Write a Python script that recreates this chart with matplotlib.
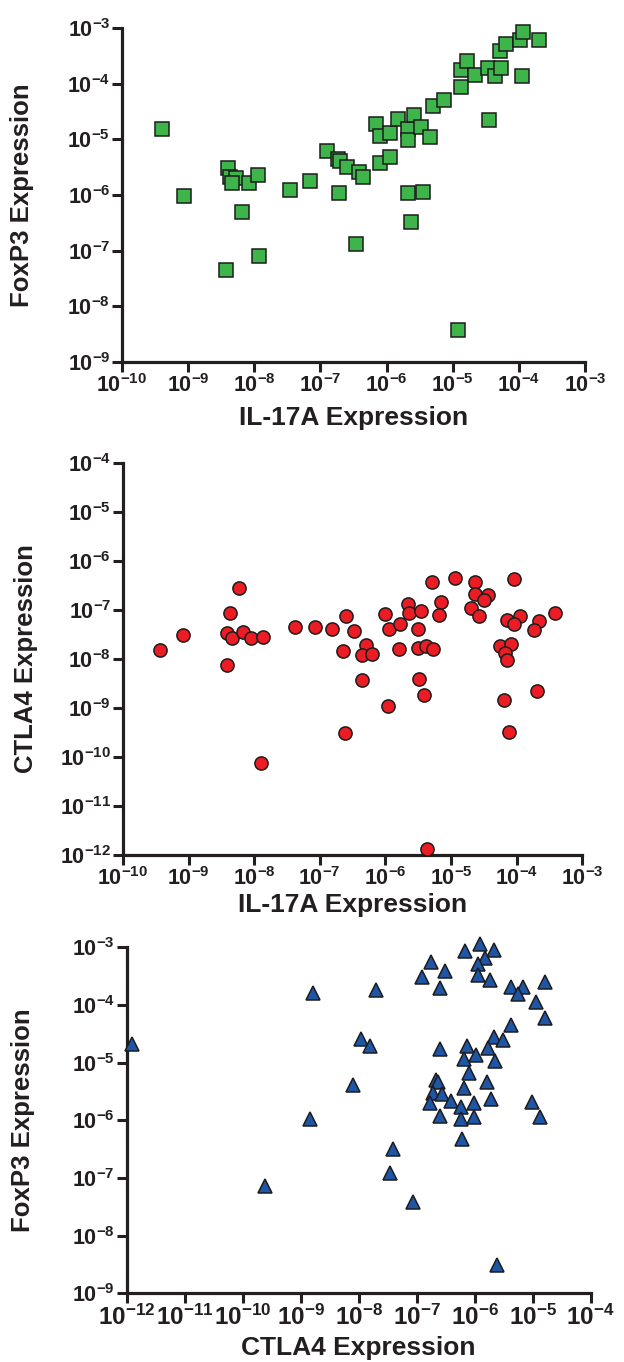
import numpy as np
import matplotlib
matplotlib.use('Agg')
import matplotlib.pyplot as plt
from matplotlib.ticker import FixedLocator, FixedFormatter, NullLocator

plt.rcParams['font.family'] = ['Liberation Sans', 'DejaVu Sans']
plt.rcParams['font.weight'] = 'bold'
plt.rcParams['mathtext.fontset'] = 'custom'
plt.rcParams['mathtext.rm'] = 'Liberation Sans:bold'
plt.rcParams['mathtext.bf'] = 'Liberation Sans:bold'
plt.rcParams['mathtext.it'] = 'Liberation Sans:bold'

# values, stored as log10 exponents
# panel 1: IL-17A vs FoxP3
il17a_p1 = [-9.40, -9.06, -8.39, -8.36, -8.27, -8.34, -8.08, -7.94, -8.18, -8.42,
            -7.93, -7.46, -7.16, -6.90, -6.74, -6.71, -6.60, -6.72, -6.46, -6.42,
            -6.36, -6.10, -5.95, -6.16, -6.10, -5.95, -5.82, -5.67, -5.67, -5.58,
            -5.48, -5.35, -5.67, -5.45, -5.63, -5.30, -5.13, -4.88, -4.87, -4.78,
            -4.66, -4.47, -4.36, -4.27, -4.45, -4.28, -4.19, -3.99, -3.94, -3.69,
            -3.96, -4.92]
foxp3_p1 = [-4.82, -6.01, -5.52, -5.67, -5.70, -5.78, -5.78, -5.64, -6.31, -7.34,
            -7.09, -5.91, -5.75, -5.20, -5.36, -5.39, -5.49, -5.97, -6.88, -5.58,
            -5.68, -5.43, -5.31, -4.72, -4.94, -4.89, -4.64, -4.82, -5.01, -4.57,
            -4.77, -4.95, -5.96, -5.94, -6.48, -4.40, -4.29, -4.06, -3.75, -3.60,
            -3.84, -3.72, -3.86, -3.71, -4.65, -3.41, -3.29, -3.22, -3.07, -3.22,
            -3.86, -8.42]

# panel 2: IL-17A vs CTLA4
il17a_p2 = [-9.44, -9.09, -8.42, -8.37, -8.23, -8.41, -8.33, -8.17, -8.05, -7.87,
            -7.90, -7.38, -7.07, -6.82, -6.60, -6.48, -6.64, -6.62, -6.30, -6.36,
            -6.21, -6.35, -6.00, -5.95, -5.77, -5.79, -5.96, -5.65, -5.64, -5.46,
            -5.51, -5.51, -5.38, -5.27, -5.49, -5.41, -5.29, -5.15, -5.18, -4.94,
            -4.63, -4.63, -4.43, -4.49, -4.70, -4.58, -4.04, -4.14, -3.95, -4.04,
            -4.26, -4.09, -4.17, -4.14, -4.19, -4.11, -3.66, -3.73, -3.69, -3.41,
            -5.36]
ctla4_p2 = [-7.81, -7.52, -8.13, -7.07, -6.55, -7.47, -7.57, -7.46, -7.57, -7.56,
            -10.13, -7.35, -7.35, -7.38, -7.12, -7.43, -7.84, -9.52, -7.71, -7.92,
            -7.89, -8.43, -7.09, -7.39, -7.29, -7.80, -8.96, -6.88, -7.07, -7.03,
            -7.38, -7.77, -7.73, -7.79, -8.41, -8.74, -6.43, -6.84, -7.11, -6.34,
            -6.44, -6.68, -6.70, -6.80, -6.96, -7.12, -6.36, -7.21, -7.12, -7.28,
            -7.74, -7.70, -7.87, -8.03, -8.84, -9.49, -7.22, -7.41, -8.65, -7.06,
            -11.87]

# panel 3: CTLA4 vs FoxP3
ctla4_p3 = [-11.90, -8.78, -8.84, -9.62, -8.09, -7.96, -7.81, -7.70, -7.41, -7.46,
            -7.07, -6.91, -6.76, -6.51, -6.59, -6.16, -5.91, -5.67, -5.82, -5.94,
            -5.94, -5.74, -5.38, -5.16, -5.25, -4.79, -4.94, -4.79, -5.38, -5.67,
            -5.51, -5.77, -5.65, -6.13, -5.97, -6.18, -6.59, -6.09, -5.79, -6.18,
            -5.71, -6.66, -6.63, -6.71, -6.57, -6.77, -6.40, -6.24, -6.02, -6.59,
            -6.24, -6.02, -6.22, -5.02, -4.87, -5.61]
foxp3_p3 = [-4.68, -3.79, -5.98, -7.14, -5.39, -4.58, -4.71, -3.74, -6.50, -6.92,
            -7.41, -3.51, -3.25, -3.41, -3.71, -3.06, -2.94, -3.05, -3.19, -3.29,
            -3.48, -3.57, -3.68, -3.69, -3.81, -3.60, -3.94, -4.23, -4.35, -4.56,
            -4.61, -4.75, -4.97, -4.71, -4.87, -4.94, -4.77, -5.18, -5.33, -5.44,
            -5.63, -5.30, -5.33, -5.53, -5.54, -5.70, -5.66, -5.76, -5.70, -5.92,
            -5.98, -5.95, -6.33, -5.68, -5.94, -8.51]


def decade_labels(decs):
    return [r'$\mathbf{10^{%d}}$' % d for d in decs]


def style_axis(ax, xdec, ydec, xlabel, ylabel, xlab_y, ylab_x, xtick_size=15.5):
    ax.set_xscale('log')
    ax.set_yscale('log')
    ax.set_xlim(10.0**xdec[0], 10.0**xdec[-1])
    ax.set_ylim(10.0**ydec[0], 10.0**ydec[-1])
    for s in ['top', 'right']:
        ax.spines[s].set_visible(False)
    for s in ['left', 'bottom']:
        ax.spines[s].set_linewidth(2.3)
        ax.spines[s].set_color('#231f20')
    ax.xaxis.set_major_locator(FixedLocator([10.0**d for d in xdec]))
    ax.xaxis.set_major_formatter(FixedFormatter(decade_labels(xdec)))
    ax.yaxis.set_major_locator(FixedLocator([10.0**d for d in ydec]))
    ax.yaxis.set_major_formatter(FixedFormatter(decade_labels(ydec)))
    ax.xaxis.set_minor_locator(NullLocator())
    ax.yaxis.set_minor_locator(NullLocator())
    ax.tick_params(axis='both', length=7, width=2.2, color='#231f20',
                   labelcolor='#231f20', pad=1.5)
    ax.tick_params(axis='y', labelsize=15.5)
    ax.tick_params(axis='x', labelsize=xtick_size)
    ax.set_xlabel(xlabel, fontsize=19, fontweight='bold', color='#231f20', va='center')
    ax.set_ylabel(ylabel, fontsize=18.5, fontweight='bold', color='#231f20', va='center')
    ax.xaxis.set_label_coords(0.5, xlab_y)
    ax.yaxis.set_label_coords(ylab_x, 0.5)


fig = plt.figure(figsize=(6.24, 13.62), dpi=100)

ax1 = fig.add_axes([0.1955, 0.7342, 0.742, 0.2452])
ax1.plot(10.0**np.array(il17a_p1), 10.0**np.array(foxp3_p1), linestyle='None',
         marker='s', markersize=10, markerfacecolor='#3db54a',
         markeredgecolor='#1c1c1c', markeredgewidth=1.1, clip_on=False, zorder=3)
style_axis(ax1, list(range(-10, -2)), list(range(-9, -2)),
           'IL-17A Expression', 'FoxP3 Expression', -0.168, -0.216)

ax2 = fig.add_axes([0.197, 0.3722, 0.736, 0.288])
ax2.plot(10.0**np.array(il17a_p2), 10.0**np.array(ctla4_p2), linestyle='None',
         marker='o', markersize=9.5, markerfacecolor='#ec1c24',
         markeredgecolor='#1c1c1c', markeredgewidth=1.1, clip_on=False, zorder=3)
style_axis(ax2, list(range(-10, -2)), list(range(-12, -3)),
           'IL-17A Expression', 'CTLA4 Expression', -0.128, -0.211)

ax3 = fig.add_axes([0.203, 0.0504, 0.7436, 0.254])
ax3.plot(10.0**np.array(ctla4_p3), 10.0**np.array(foxp3_p3), linestyle='None',
         marker='^', markersize=10.5, markerfacecolor='#1f55a5',
         markeredgecolor='#1c1c1c', markeredgewidth=1.1, clip_on=False, zorder=3)
style_axis(ax3, list(range(-12, -3)), list(range(-9, -2)),
           'CTLA4 Expression', 'FoxP3 Expression', -0.158, -0.223, xtick_size=17.5)

fig.savefig('out.png', dpi=100)
